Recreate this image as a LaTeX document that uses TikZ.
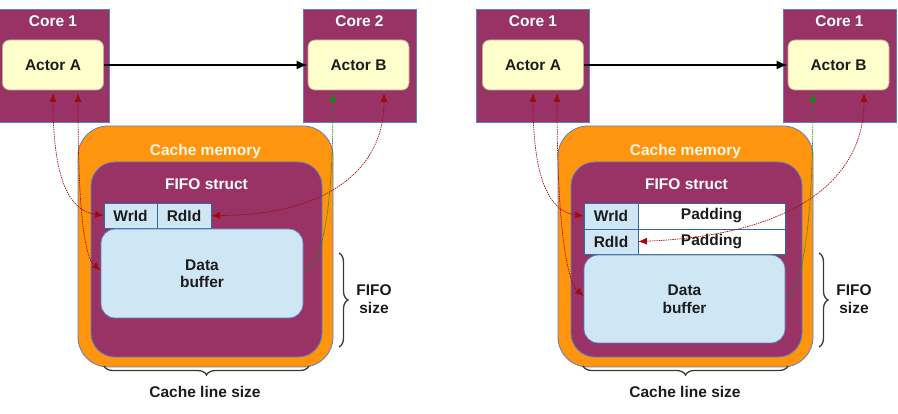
\documentclass[tikz,border=0pt]{standalone}
\usepackage{fontspec}
\setmainfont{Liberation Sans}
\usetikzlibrary{arrows.meta,decorations.pathreplacing,calc}
\definecolor{purp}{HTML}{993366}
\definecolor{orng}{HTML}{FF950E}
\definecolor{actorfill}{HTML}{FFFFCC}
\definecolor{cellfill}{HTML}{CFE7F5}
\definecolor{bluebd}{HTML}{5B7FBF}
\definecolor{cellbd}{HTML}{3465A4}
\definecolor{actorbd}{HTML}{B8B08E}
\definecolor{darkred}{HTML}{9E0B0F}
\definecolor{darkgreen}{HTML}{128A12}
\definecolor{txtdark}{HTML}{1C1C1C}
\definecolor{bracegray}{HTML}{3A3A3A}
\definecolor{cachetxt}{HTML}{FFF8E6}
\newcommand\dlabfont{\fontsize{15.5}{17.5}\selectfont\bfseries}
\tikzset{
  corebox/.style={draw=bluebd, fill=purp, line width=0.8pt, inner sep=0pt, minimum width=113pt, minimum height=113pt},
  actorbox/.style={draw=actorbd, fill=actorfill, rounded corners=7pt, line width=0.8pt, inner sep=0pt, minimum width=101pt, minimum height=50pt, font=\dlabfont, text=txtdark},
  cachebox/.style={draw=bluebd, fill=orng, rounded corners=30pt, line width=0.8pt, inner sep=0pt, minimum width=255pt, minimum height=241pt},
  fifobox/.style={draw=bluebd, fill=purp, rounded corners=24pt, line width=0.8pt, inner sep=0pt, minimum width=231pt, minimum height=195pt},
  cellbox/.style={draw=cellbd, fill=cellfill, line width=0.8pt, inner sep=0pt, minimum height=25pt, font=\dlabfont, text=txtdark},
  padbox/.style={draw=cellbd, fill=white, line width=0.8pt, inner sep=0pt, minimum width=147pt, minimum height=25pt, font=\dlabfont, text=txtdark},
  databox/.style={draw=bluebd, fill=cellfill, rounded corners=14pt, line width=0.8pt, inner sep=0pt, minimum width=202pt, minimum height=89pt, font=\dlabfont, text=txtdark, align=center},
  whitetxt/.style={font=\dlabfont, text=white, inner sep=0pt},
  cachetext/.style={font=\dlabfont, text=cachetxt, inner sep=0pt},
  darktxt/.style={font=\dlabfont, text=txtdark, inner sep=0pt, align=center},
  redarr/.style={draw=darkred, line width=0.7pt, dash pattern=on 1.4pt off 0.9pt, {Latex[length=8.5pt,width=7pt]}-{Latex[length=8.5pt,width=7pt]}},
  greenarr/.style={draw=darkgreen, line width=0.7pt, dash pattern=on 1.4pt off 0.9pt, {Latex[length=8.5pt,width=7pt]}-},
  mainarr/.style={draw=black, line width=1.8pt, -{Latex[length=11pt,width=9pt]}},
  bracedec/.style={draw=bracegray, line width=1.3pt, decorate, decoration={brace, amplitude=9pt}}
}
\begin{document}
\begin{tikzpicture}[x=1pt,y=-1pt]
\useasboundingbox (0,0) rectangle (898,414);

% ================= LEFT PANEL =================
\node[corebox] (core1L) at (53,65.5) {};
\node[whitetxt] (core1Lt) at (53,21.5) {Core 1};
\node[actorbox] (actorAL) at (53,65) {Actor A};
\node[corebox] (core2L) at (359.5,65.5) {};
\node[whitetxt] (core2Lt) at (359.5,21.5) {Core 2};
\node[actorbox] (actorBL) at (358.5,65) {Actor B};

\node[cachebox] (cacheL) at (205.5,246.5) {};
\node[cachetext] (cacheLt) at (205.5,151) {Cache memory};
\node[fifobox] (fifoL) at (206.5,259.5) {};
\node[whitetxt] (fifoLt) at (206.5,184.5) {FIFO struct};
\node[cellbox, minimum width=53pt] (wrL) at (130.5,215.5) {WrId};
\node[cellbox, minimum width=54pt] (rdL) at (184,215.5) {RdId};
\node[databox] (dataL) at (202,273.5) {Data\\buffer};

\draw[mainarr] (actorAL.east) -- (actorBL.west);

\draw[redarr] ([yshift=-3pt]actorAL.south) .. controls +(0,95) and +(-30,-4) .. (wrL.west);
\draw[redarr] ($(actorAL.south)+(25,3)$) .. controls +(0,135) and +(-14,-12) .. ($(dataL.west)+(0,-3)$);
\draw[greenarr] ($(actorBL.south)+(-25.5,3)$) .. controls +(0,150) and +(12,-6) .. (dataL.east);
\draw[redarr] ($(actorBL.south)+(25.5,3)$) .. controls +(0,80) and +(110,0) .. (rdL.east);

\draw[bracedec] (339,253) -- (339,347);
\node[darktxt] (fifosizeL) at (374,299) {FIFO\\size};
\draw[bracedec] (309,366) -- (104,366);
\node[darktxt] (cachelineL) at (205,392) {Cache line size};

% ================= RIGHT PANEL =================
\node[corebox] (core1R) at (533,65.5) {};
\node[whitetxt] (core1Rt) at (533,21.5) {Core 1};
\node[actorbox] (actorAR) at (533,65) {Actor A};
\node[corebox] (core2R) at (839.5,65.5) {};
\node[whitetxt] (core2Rt) at (839.5,21.5) {Core 1};
\node[actorbox] (actorBR) at (838.5,65) {Actor B};

\node[cachebox] (cacheR) at (685.5,246.5) {};
\node[cachetext] (cacheRt) at (685.5,151) {Cache memory};
\node[fifobox] (fifoR) at (686.5,259.5) {};
\node[whitetxt] (fifoRt) at (686.5,184.5) {FIFO struct};
\node[cellbox, minimum width=54pt, minimum height=26pt] (wrR) at (611,216) {WrId};
\node[padbox, minimum height=26pt] (pad1R) at (711.5,216) {Padding};
\node[cellbox, minimum width=54pt] (rdR) at (611,241.5) {RdId};
\node[padbox] (pad2R) at (711.5,241.5) {Padding};
\node[databox, minimum width=201pt, minimum height=88pt] (dataR) at (684.5,299) {Data\\buffer};

\draw[mainarr] (actorAR.east) -- (actorBR.west);

\draw[redarr] ([yshift=-3pt]actorAR.south) .. controls +(0,95) and +(-30,-4) .. (wrR.west);
\draw[redarr] ($(actorAR.south)+(24,3)$) .. controls +(0,150) and +(-14,-12) .. ($(dataR.west)+(0,-3)$);
\draw[greenarr] ($(actorBR.south)+(-25.5,3)$) .. controls +(0,160) and +(12,-6) .. (dataR.east);
\draw[redarr] ($(actorBR.south)+(25.5,3)$) .. controls +(0,90) and +(150,-6) .. (rdR.east);

\draw[bracedec] (819,253) -- (819,347);
\node[darktxt] (fifosizeR) at (854,299) {FIFO\\size};
\draw[bracedec] (788,366) -- (583,366);
\node[darktxt] (cachelineR) at (685,392) {Cache line size};
\end{tikzpicture}
\end{document}
